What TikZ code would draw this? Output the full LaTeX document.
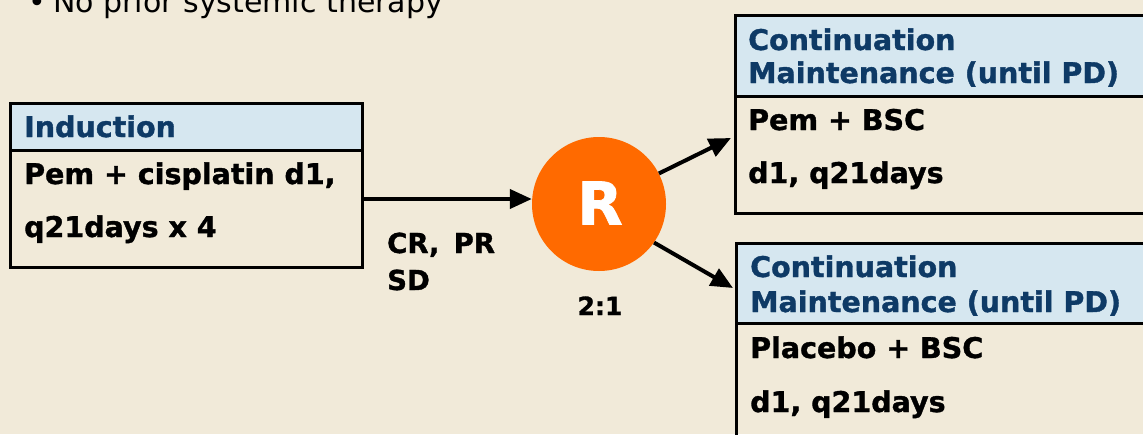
\documentclass[tikz,border=0pt]{standalone}
\usepackage{fontspec}
\setmainfont{DejaVu Sans}[BoldFeatures={FakeBold=1.2}]
\usetikzlibrary{arrows.meta}
\definecolor{bgc}{HTML}{F1EAD9}
\definecolor{hdrfill}{HTML}{D6E7F0}
\definecolor{hdrtext}{HTML}{0E3A66}
\definecolor{rorange}{HTML}{FF6A00}
\tikzset{
  boxline/.style={draw=black, line width=3pt},
  hdrbox/.style={boxline, fill=hdrfill, anchor=north west, inner sep=0pt},
  bodybox/.style={boxline, anchor=north west, inner sep=0pt},
  hdrtxt/.style={anchor=base west, inner sep=0pt, text=hdrtext, font=\fontsize{28.5}{34}\selectfont\bfseries},
  bodytxt/.style={anchor=base west, inner sep=0pt, text=black, font=\fontsize{28.5}{34}\selectfont\bfseries},
  lbl/.style={anchor=base west, inner sep=0pt, font=\fontsize{27.5}{34}\selectfont\bfseries},
  arr/.style={line width=4pt, -{Triangle[length=22pt,width=19pt]}}
}
\begin{document}
\begin{tikzpicture}[x=1pt,y=-1pt]
\fill[bgc] (0,0) rectangle (1143,434);
\useasboundingbox (0,0) rectangle (1143,434);
\clip (0,0) rectangle (1143,434);
% top bullet line
\node[anchor=base west, inner sep=0pt, font=\fontsize{30}{36}\selectfont] (bul) at (28,12) {•};
\node[anchor=base west, inner sep=0pt, font=\fontsize{30}{36}\selectfont] (top) at (53,12) {No prior systemic therapy};
% induction box
\node[hdrbox, minimum width=352pt, minimum height=47pt] (indH) at (9,102) {};
\node[bodybox, minimum width=352pt, minimum height=117pt] (indB) at (9,149) {};
\node[hdrtxt] (indT) at (24,137) {Induction};
\node[bodytxt] (indL1) at (24,184) {Pem + cisplatin d1,};
\node[bodytxt] (indL2) at (24,237) {q21days x 4};
% top right box
\node[hdrbox, minimum width=430pt, minimum height=81pt] (upH) at (734,14) {};
\node[bodybox, minimum width=430pt, minimum height=117pt] (upB) at (734,95) {};
\node[hdrtxt] (upT1) at (748,50) {Continuation};
\node[hdrtxt] (upT2) at (748,83) {Maintenance (until PD)};
\node[bodytxt] (upL1) at (748,130) {Pem + BSC};
\node[bodytxt] (upL2) at (748,183) {d1, q21days};
% bottom right box
\node[hdrbox, minimum width=430pt, minimum height=80pt] (loH) at (735,242) {};
\node[bodybox, minimum width=430pt, minimum height=140pt] (loB) at (735,322) {};
\node[hdrtxt] (loT1) at (750,277) {Continuation};
\node[hdrtxt] (loT2) at (750,312) {Maintenance (until PD)};
\node[bodytxt] (loL1) at (750,358) {Placebo + BSC};
\node[bodytxt] (loL2) at (750,412) {d1, q21days};
% R circle
\node[circle, fill=rorange, minimum size=134pt, inner sep=0pt] (R) at (599,204) {};
\node[inner sep=0pt, text=white, font=\fontsize{59}{60}\selectfont\bfseries] (Rt) at (600,203) {R};
% labels
\node[lbl] (cr) at (387,253) {CR, \,PR};
\node[lbl] (sd) at (387,290) {SD};
\node[anchor=base, inner sep=0pt, font=\fontsize{25}{30}\selectfont\bfseries] (ratio) at (600,315) {2:1};
% connectors
\coordinate (a0) at (364,199);
\coordinate (a1) at (731,138);
\coordinate (a2) at (733,288);
\draw[arr] (a0) -- (a0 -| R.west);
\draw[arr] (R.27) -- (a1);
\draw[arr] (R.-35) -- (a2);
\end{tikzpicture}
\end{document}
